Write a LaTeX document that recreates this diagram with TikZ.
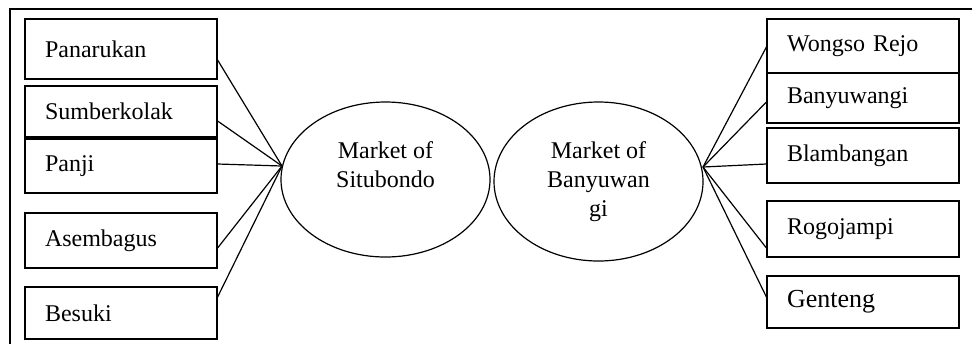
\documentclass[tikz,border=0pt]{standalone}
\usepackage{fontspec}
\setmainfont{Liberation Serif}
\usetikzlibrary{shapes.geometric}

\begin{document}
\begin{tikzpicture}[x=0.5pt,y=-0.5pt]
\tikzset{PlaceStyle/.style={draw, rectangle, line width=0.6pt, minimum width=96pt, inner xsep=10pt, text width=76pt, align=left, font=\fontsize{12}{14}\selectfont}}
\tikzset{MarketStyle/.style={draw, ellipse, line width=0.6pt, inner sep=0pt, minimum width=104.5pt, align=center, font=\fontsize{12}{14.5}\selectfont}}
\tikzset{EdgeStyle/.style={line width=0.6pt}}
\useasboundingbox (0,0) rectangle (972,344);
\draw[line width=0.7pt] (10,344) -- (10,9) -- (972,9);
\node[MarketStyle, minimum height=77.5pt] (sit) at (385.5,179.5) {Market of\\Situbondo\\\mbox{}};
\node[MarketStyle, minimum height=79.5pt] (bwi) at (598.5,181.5) {Market of\\Banyuwan\\gi};
\coordinate (hubS) at (282,166);
\coordinate (hubB) at (703,167);
\node[PlaceStyle, minimum height=30pt] (pan) at (121,49) {Panarukan};
\node[PlaceStyle, minimum height=25.5pt] (sum) at (121,111.5) {Sumberkolak};
\node[PlaceStyle, minimum height=27pt] (panji) at (121,166) {Panji};
\node[PlaceStyle, minimum height=27.5pt] (ase) at (121,240.5) {Asembagus};
\node[PlaceStyle, minimum height=26pt] (bes) at (121,313) {Besuki};
\node[PlaceStyle, minimum height=27pt] (won) at (863,46) {Wongso Rejo};
\node[PlaceStyle, minimum height=25pt] (ban) at (863,98) {Banyuwangi};
\node[PlaceStyle, minimum height=27.5pt] (bla) at (863,155.5) {Blambangan};
\node[PlaceStyle, minimum height=28pt] (rog) at (863,229) {Rogojampi};
\node[PlaceStyle, minimum height=26pt, font=\fontsize{13}{15}\selectfont] (gen) at (863,302) {Genteng};
\draw[EdgeStyle] ([yshift=-5.5pt]pan.east) -- (hubS);
\draw[EdgeStyle] ([yshift=-4.75pt]sum.east) -- (hubS);
\draw[EdgeStyle] ([yshift=1pt]panji.east) -- (hubS);
\draw[EdgeStyle] ([yshift=-3.75pt]ase.east) -- (hubS);
\draw[EdgeStyle] ([yshift=8pt]bes.east) -- (hubS);
\draw[EdgeStyle] ([yshift=-0.5pt]won.west) -- (hubB);
\draw[EdgeStyle] ([yshift=-2pt]ban.west) -- (hubB);
\draw[EdgeStyle] ([yshift=-4.25pt]bla.west) -- (hubB);
\draw[EdgeStyle] ([yshift=-9.5pt]rog.west) -- (hubB);
\draw[EdgeStyle] ([yshift=2.5pt]gen.west) -- (hubB);
\end{tikzpicture}
\end{document}
